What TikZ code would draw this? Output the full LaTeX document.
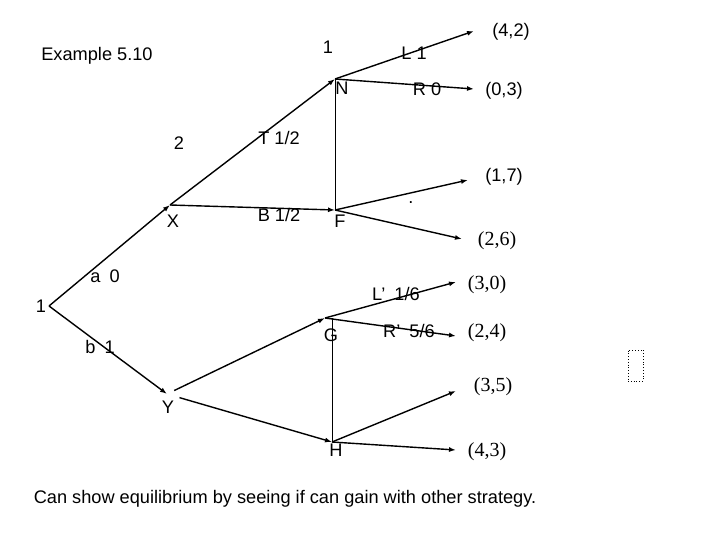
\documentclass[tikz,border=0pt]{standalone}
\usepackage{fontspec}
\setmainfont{Liberation Sans}
\newfontfamily\payfont{Liberation Serif}
\usetikzlibrary{arrows.meta}
\tikzset{
  txt/.style={inner sep=0pt, anchor=base, font=\fontsize{18.2}{21}\selectfont},
  payser/.style={txt, font=\fontsize{20}{23}\selectfont\payfont},
  move/.style={line width=1.4pt, -{Latex[length=7pt,width=5pt]}},
  info/.style={line width=1pt},
}
\begin{document}
\begin{tikzpicture}[x=1pt,y=-1pt]
\useasboundingbox (0,0) rectangle (720,540);
\coordinate (r) at (49,306);
\coordinate (x) at (170,205);
\coordinate (n) at (335,79);
\coordinate (f) at (335,210);
\coordinate (y) at (167,394);
\coordinate (g) at (325,318);
\coordinate (h) at (332,442);
\coordinate (t42) at (474,31);
\coordinate (t03) at (474,89);
\coordinate (t17) at (468,180);
\coordinate (t26) at (462,239);
\coordinate (t30) at (456,282);
\coordinate (t24) at (456,336);
\coordinate (t35) at (456,391);
\coordinate (t43) at (456,450);
\node[txt] (title) at (97,61) {Example 5.10};
\node[txt] (p1) at (328,54) {1};
\node[txt] (p2) at (179,150) {2};
\node[txt] (proot) at (41,312) {1};
\node[txt] (lN) at (342,95) {N};
\node[txt] (lX) at (173,228) {X};
\node[txt] (lF) at (340,228) {F};
\node[txt] (lY) at (168,413) {Y};
\node[txt] (lG) at (331,341) {G};
\node[txt] (lH) at (336,456) {H};
\node[txt] (la) at (105,282) {a\enspace 0};
\node[txt] (lb) at (100,353) {b\enspace 1};
\node[txt] (lT) at (279,145) {T 1/2};
\node[txt] (lB) at (279,222) {B 1/2};
\node[txt] (lL) at (414,60) {L 1};
\node[txt] (lR) at (427,96) {R 0};
\node[txt] (lL2) at (396,300) {L’\enspace 1/6};
\node[txt] (lR2) at (409,337) {R’\enspace 5/6};
\node[txt] (v42) at (511,37) {(4,2)};
\node[txt] (v03) at (504,96) {(0,3)};
\node[txt] (v17) at (504,182) {(1,7)};
\node[payser] (v26) at (497,245) {(2,6)};
\node[payser] (v30) at (487,289) {(3,0)};
\node[payser] (v24) at (487,337) {(2,4)};
\node[payser] (v35) at (493,391) {(3,5)};
\node[payser] (v43) at (487,456) {(4,3)};
\node[txt] (dot) at (411,204) {.};
\node[draw, dotted, line width=0.8pt, minimum width=15pt, minimum height=31pt, inner sep=0pt] (box) at (635.5,365.5) {};
\node[txt] (note) at (285,503) {Can show equilibrium by seeing if can gain with other strategy.};
\draw[move] (r) -- (x);
\draw[move] (x) -- (n);
\draw[move] (x) -- (f);
\draw[move] (r) -- (y);
\draw[move] (n) -- (t42);
\draw[move] (n) -- (t03);
\draw[move] (f) -- (t17);
\draw[move] (f) -- (t26);
\draw[move, shorten <=8pt] (y) -- (g);
\draw[move, shorten <=13pt] (y) -- (h);
\draw[move] (g) -- (t30);
\draw[move] (g) -- (t24);
\draw[move] (h) -- (t35);
\draw[move] (h) -- (t43);
\draw[info] (n) -- (f);
\draw[info] (g -| h) -- (h);
\end{tikzpicture}
\end{document}
